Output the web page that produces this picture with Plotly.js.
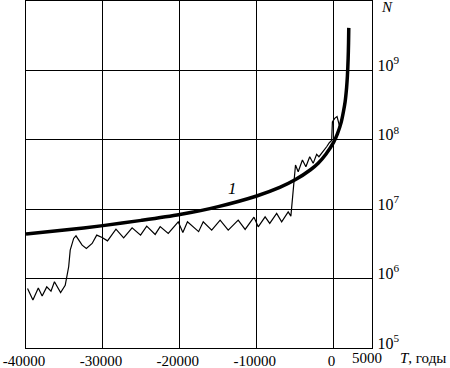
<!DOCTYPE html>
<html>
<head>
<meta charset="utf-8">
<script src="https://cdn.plot.ly/plotly-3.0.1.min.js"></script>
<style>html,body{margin:0;padding:0;background:#fff;}#chart{width:450px;height:368px;}</style>
</head>
<body>
<div id="chart"></div>
<script>
// Curve 1 (thick, smooth hyperbolic growth)
var curve1T = [-40000,-35000,-30000,-25000,-20000,-15000,-10000,-7000,-5000,-3000,-2000,-1000,0,500,1000,1300,1500,1700,1800,1900,1950,1980];
var curve1N = [4.4e6,5.0e6,5.8e6,6.9e6,8.4e6,1.09e7,1.55e7,2.06e7,2.65e7,3.7e7,4.6e7,6.2e7,9.2e7,1.22e8,1.8e8,2.6e8,3.5e8,5.7e8,8.3e8,1.5e9,2.5e9,4.1e9];

// Thin wiggly curve (population estimates)
var thinT = [-39800,-39100,-38400,-37900,-37300,-36750,-36300,-35500,-34900,-34450,-34250,-33800,-33500,-32700,-32150,-31400,-30800,-30100,-29400,-28300,-27300,-26200,-25100,-24300,-23200,-22550,-21500,-20200,-19600,-19000,-17550,-16950,-15850,-14750,-13700,-12400,-11500,-10350,-9800,-8900,-8300,-7400,-6750,-5900,-5550,-4950,-4600,-4050,-3600,-3100,-2650,-2200,-1900,-1350,-900,-550,-250,-150,150,450,750];
var thinN = [7.2e5,4.9e5,7.3e5,5.6e5,7.6e5,6.6e5,9.0e5,6.3e5,8.0e5,1.48e6,2.57e6,3.79e6,4.13e6,3.03e6,2.72e6,3.21e6,4.23e6,3.92e6,3.50e6,5.16e6,3.86e6,5.40e6,4.23e6,5.70e6,4.33e6,5.61e6,4.48e6,6.58e6,4.62e6,6.58e6,4.75e6,6.58e6,4.99e6,6.97e6,4.99e6,6.97e6,5.11e6,7.69e6,5.57e6,7.76e6,6.24e6,8.69e6,6.58e6,9.17e6,7.94e6,4.33e7,3.47e7,5.11e7,4.09e7,5.70e7,4.58e7,6.18e7,5.70e7,6.73e7,7.94e7,9.08e7,9.77e7,1.81e8,2.04e8,2.17e8,1.62e8];

var xTickVals = [-40000,-30000,-20000,-10000,0];
var xTickText = ['-40000','-30000','-20000','-10000','0'];
var xEndVal = 5000;
var xEndText = '5000';
var yTickVals = [1e5,1e6,1e7,1e8,1e9];
var yTickText = ['10<sup>5</sup>','10<sup>6</sup>','10<sup>7</sup>','10<sup>8</sup>','10<sup>9</sup>'];

var serif = 'Liberation Serif, Times New Roman, serif';

var traces = [
  {x: thinT, y: thinN, mode: 'lines', line: {color: '#000', width: 1.2, shape: 'linear'}, hoverinfo: 'skip'},
  {x: curve1T, y: curve1N, mode: 'lines', line: {color: '#000', width: 3.5, shape: 'spline', smoothing: 0.8}, hoverinfo: 'skip'}
];

var layout = {
  width: 450, height: 368,
  margin: {l: 26, r: 78, t: 1, b: 20, pad: 0},
  paper_bgcolor: '#fff', plot_bgcolor: '#fff',
  showlegend: false,
  font: {family: serif, color: '#000', size: 15},
  xaxis: {
    range: [-40000, xEndVal], tickvals: xTickVals, ticktext: xTickText,
    showgrid: true, gridcolor: '#000', gridwidth: 1.2,
    showline: true, mirror: true, linecolor: '#000', linewidth: 1.3,
    zeroline: false, ticks: '', ticklabelstandoff: -1, ticklabelshift: -2,
    tickfont: {family: serif, size: 15, color: '#000'}
  },
  yaxis: {
    type: 'log', range: [5, 10], side: 'right',
    tickvals: yTickVals, ticktext: yTickText,
    showgrid: true, gridcolor: '#000', gridwidth: 1.2,
    showline: true, mirror: true, linecolor: '#000', linewidth: 1.3,
    zeroline: false, ticks: '', ticklabelstandoff: 1, ticklabelshift: -5,
    tickfont: {family: serif, size: 16, color: '#000'}
  },
  annotations: [
    {x: xEndVal, y: -0.028, xref: 'x', yref: 'paper', text: xEndText, showarrow: false, xanchor: 'center', xshift: -5, yanchor: 'middle', font: {family: serif, size: 15, color: '#000'}},
    {x: -13100, y: 7.30, xref: 'x', yref: 'y', text: '<i>1</i>', showarrow: false, font: {family: serif, size: 17, color: '#000'}},
    {x: 1.043, y: 0.983, xref: 'paper', yref: 'paper', text: '<i>N</i>', showarrow: false, xanchor: 'center', yanchor: 'middle', font: {family: serif, size: 15, color: '#000'}},
    {x: 1.074, y: -0.028, xref: 'paper', yref: 'paper', text: '<i>T</i>, годы', showarrow: false, xanchor: 'left', yanchor: 'middle', font: {family: serif, size: 15, color: '#000'}}
  ]
};

Plotly.newPlot('chart', traces, layout, {displayModeBar: false, staticPlot: true});
</script>
</body>
</html>
